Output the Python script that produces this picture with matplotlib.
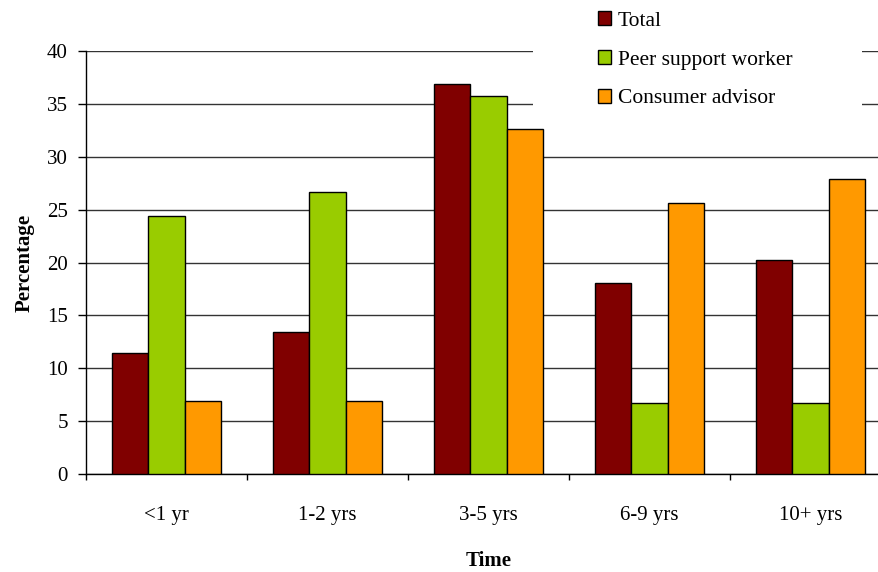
import matplotlib
matplotlib.use("Agg")
import matplotlib.pyplot as plt
from matplotlib.patches import Patch, Rectangle
import numpy as np

categories = ["<1 yr", "1-2 yrs", "3-5 yrs", "6-9 yrs", "10+ yrs"]
total = [11.4, 13.4, 36.85, 18.1, 20.2]
peer_support = [24.35, 26.7, 35.7, 6.7, 6.7]
consumer_advisor = [6.95, 6.95, 32.6, 25.65, 27.9]
series_names = ["Total", "Peer support worker", "Consumer advisor"]
colors = ["#800000", "#99CC00", "#FF9900"]

plt.rcParams["font.family"] = ["Liberation Serif", "DejaVu Serif"]
plt.rcParams["font.size"] = 15

fig = plt.figure(figsize=(8.79, 5.72), dpi=100)
W, H = 879, 572
# plot area runs slightly past the right edge of the canvas
ax = fig.add_axes([86 / W, 98 / H, 805 / W, 423 / H])

x = np.arange(len(categories))
width = 0.224
for i, (vals, c) in enumerate(zip([total, peer_support, consumer_advisor], colors)):
    ax.bar(x + (i - 1) * width, vals, width, color=c, edgecolor="black",
           linewidth=1.0, zorder=3)

ax.set_xlim(-0.5, len(categories) - 0.5)
ax.set_ylim(0, 40)
ax.set_yticks(range(0, 41, 5))
ax.yaxis.grid(True, color="#333333", linewidth=1.0, zorder=0)
ax.set_axisbelow(True)

ax.set_xticks(x)
ax.set_xticklabels(categories)
ax.set_xticks(np.arange(-0.5, len(categories)), minor=True)
ax.tick_params(axis="x", which="major", length=0, pad=23)
ax.tick_params(axis="x", which="minor", length=4.5, width=1, direction="out")
ax.tick_params(axis="y", length=6, width=1, pad=7)

for side in ["top", "right"]:
    ax.spines[side].set_visible(False)
ax.spines["left"].set_linewidth(1)
ax.spines["bottom"].set_linewidth(1)

ax.set_ylabel("Percentage", fontweight="bold", labelpad=9)
ax.set_xlabel("Time", fontweight="bold", labelpad=19)

# white area behind the legend hides the top gridlines
fig.patches.append(Rectangle((533 / W, 1 - 118 / H), 329 / W, 118 / H,
                             transform=fig.transFigure, facecolor="white",
                             edgecolor="none", zorder=2))

handles = [Patch(facecolor=c, edgecolor="black", linewidth=1) for c in colors]
leg = fig.legend(handles, series_names, loc="upper left",
                 bbox_to_anchor=(583 / W, 1 + 4 / H), frameon=False,
                 handlelength=0.62, handleheight=0.62, handletextpad=0.3,
                 labelspacing=0.9, borderpad=0.2, fontsize=15.5)
leg.set_zorder(5)

fig.savefig("out.png", dpi=100)
